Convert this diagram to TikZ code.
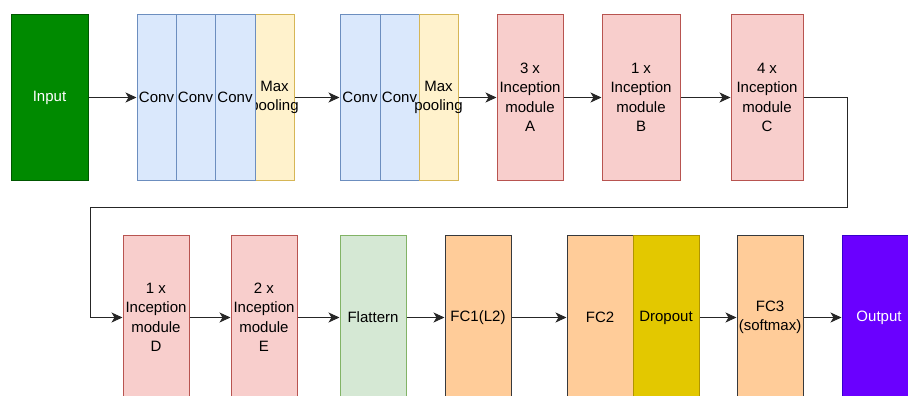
\documentclass[tikz,border=0pt]{standalone}
\usepackage{fontspec}
\setmainfont{Liberation Sans}
\usepackage{tikz}
\usetikzlibrary{arrows.meta, positioning}
\definecolor{convfill}{HTML}{DAE8FC}
\definecolor{convline}{HTML}{6C8EBF}
\definecolor{poolfill}{HTML}{FFF2CC}
\definecolor{poolline}{HTML}{D6B656}
\definecolor{incfill}{HTML}{F8CECC}
\definecolor{incline}{HTML}{B85450}
\definecolor{flatfill}{HTML}{D5E8D4}
\definecolor{flatline}{HTML}{82B366}
\definecolor{fcfill}{HTML}{FFCC99}
\definecolor{fcline}{HTML}{36393D}
\definecolor{dropfill}{HTML}{E3C800}
\definecolor{dropline}{HTML}{B09500}
\definecolor{infill}{HTML}{008A00}
\definecolor{inline}{HTML}{005700}
\definecolor{outfill}{HTML}{6A00FF}
\definecolor{outline}{HTML}{3700CC}

\begin{document}
\begin{tikzpicture}[x=1pt, y=-1pt,
    font=\fontsize{15}{19.5}\selectfont,
    layer/.style={draw, line width=1pt, minimum height=165pt, inner sep=0pt, align=center},
    conv/.style={layer, fill=convfill, draw=convline, minimum width=39pt},
    pool/.style={layer, fill=poolfill, draw=poolline, minimum width=39pt},
    incep/.style={layer, fill=incfill, draw=incline, minimum width=66pt},
    flat/.style={layer, fill=flatfill, draw=flatline, minimum width=66pt},
    dense/.style={layer, fill=fcfill, draw=fcline, minimum width=66pt},
    arr/.style={-{Stealth[length=11pt, width=10pt, inset=3pt]}, line width=1pt, black!85}]
  \clip (0,0) rectangle (908,396);

  % first row
  \node[layer, fill=infill, draw=inline, minimum width=77pt, text=white] (input) at (49.5,97.5) {Input};
  \node[pool] (pool1) at (274.5,97.5) {Max\\\makebox[0pt]{pooling}};
  \node[conv] (conv1) at (156.5,97.5) {Conv};
  \node[conv] (conv2) at (195.5,97.5) {Conv};
  \node[conv, minimum width=40pt] (conv3) at (235,97.5) {Conv};
  \node[conv, minimum width=40pt] (conv4) at (360,97.5) {Conv};
  \node[conv] (conv5) at (399.5,97.5) {Conv};
  \node[pool] (pool2) at (438.5,97.5) {Max\\\makebox[0pt]{pooling}};
  \node[incep] (incA) at (530,97.5) {3 x\\Inception\\module\\A};
  \node[incep, minimum width=78pt] (incB) at (641,97.5) {1 x\\Inception\\module\\B};
  \node[incep, minimum width=72pt] (incC) at (767,97.5) {4 x\\Inception\\module\\C};

  % second row
  \node[incep] (incD) at (156,317.5) {1 x\\Inception\\module\\D};
  \node[incep] (incE) at (264,317.5) {2 x\\Inception\\module\\E};
  \node[flat] (flat) at (373,317.5) {Flattern};
  \node[dense] (fc1) at (478,317.5) {FC1(L2)};
  \node[dense] (fc2) at (600,317.5) {FC2};
  \node[layer, fill=dropfill, draw=dropline, minimum width=66pt] (drop) at (666,317.5) {Dropout};
  \node[dense] (fc3) at (770,317.5) {FC3\\(softmax)};
  \node[layer, fill=outfill, draw=outline, minimum width=74pt, text=white] (output) at (879,317.5) {Output};

  \coordinate (turnA) at (847,207);
  \coordinate (turnB) at (90,207);

  \draw[arr] (input) -- (conv1);
  \draw[arr] (pool1) -- (conv4);
  \draw[arr] (pool2) -- (incA);
  \draw[arr] (incA) -- (incB);
  \draw[arr] (incB) -- (incC);
  \draw[arr] (incC.east) -| (turnA) -- (turnB) |- (incD.west);
  \draw[arr] (incD) -- (incE);
  \draw[arr] (incE) -- (flat);
  \draw[arr] (flat) -- (fc1);
  \draw[arr] (fc1) -- (fc2);
  \draw[arr] (drop) -- (fc3);
  \draw[arr] (fc3) -- (output);
\end{tikzpicture}
\end{document}
